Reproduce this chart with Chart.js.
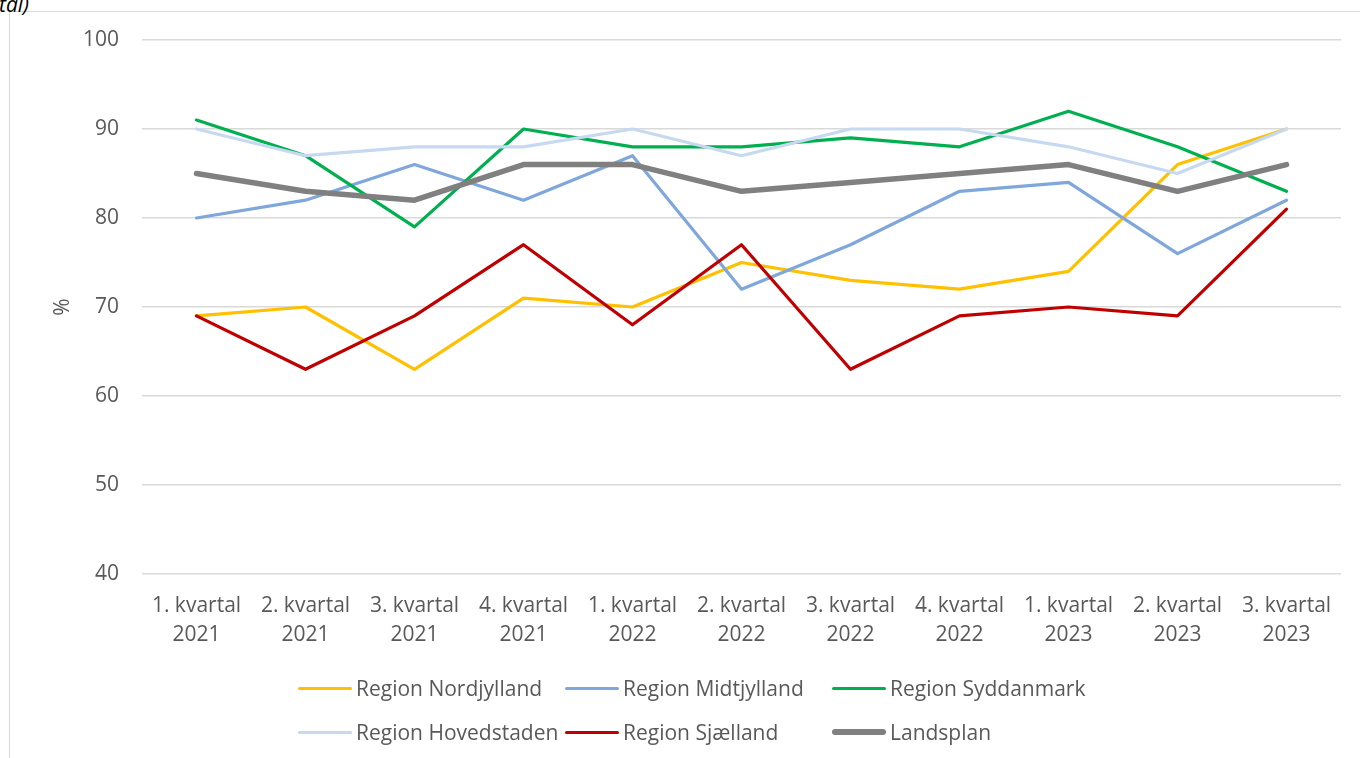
<!DOCTYPE html>
<html>
<head>
<meta charset="utf-8">
<script src="https://cdn.jsdelivr.net/npm/chart.js@4"></script>
<style>
  html, body { margin: 0; padding: 0; background: #fff; overflow: hidden; }
  #wrap { position: relative; width: 1360px; height: 758px; overflow: hidden; }
  #frame { position: absolute; left: 9px; top: 11px; width: 1400px; height: 800px;
           border-left: 1px solid #d9d9d9; border-top: 1px solid #d9d9d9; }
  #title { position: absolute; left: -1px; top: -6px; font: italic 21px "Open Sans", sans-serif;
           color: #000; line-height: 20px; white-space: nowrap; }
  #cwrap { position: absolute; left: 0; top: 0; width: 1360px; height: 758px; }
  #ytitle { position: absolute; left: 61px; top: 307px; font: 21px "Open Sans", sans-serif; color: #595959;
            transform: translate(-50%, -50%) rotate(-90deg); white-space: nowrap; }
  #legend { position: absolute; left: 0; top: 0; width: 1360px; height: 758px; pointer-events: none; }
  .li { position: absolute; height: 30px; display: flex; align-items: center;
        font: 21px "Open Sans", sans-serif; color: #595959; white-space: nowrap; }
  .sw { width: 54px; border-radius: 3px; margin-right: 4px; }
</style>
</head>
<body>
<div id="wrap">
  <div id="frame"></div>
  <div id="title">tal)</div>
  <div id="cwrap"><canvas id="c"></canvas></div>
  <div id="ytitle">%</div>
  <div id="legend"></div>
</div>
<script>
const categories = [
  ["1. kvartal","2021"],["2. kvartal","2021"],["3. kvartal","2021"],["4. kvartal","2021"],
  ["1. kvartal","2022"],["2. kvartal","2022"],["3. kvartal","2022"],["4. kvartal","2022"],
  ["1. kvartal","2023"],["2. kvartal","2023"],["3. kvartal","2023"]
];
const seriesNames = ["Region Nordjylland","Region Midtjylland","Region Syddanmark","Region Hovedstaden","Region Sjælland","Landsplan"];
const nordjylland = [69, 70, 63, 71, 70, 75, 73, 72, 74, 86, 90];
const midtjylland = [80, 82, 86, 82, 87, 72, 77, 83, 84, 76, 82];
const syddanmark  = [91, 87, 79, 90, 88, 88, 89, 88, 92, 88, 83];
const hovedstaden = [90, 87, 88, 88, 90, 87, 90, 90, 88, 85, 90];
const sjaelland   = [69, 63, 69, 77, 68, 77, 63, 69, 70, 69, 81];
const landsplan   = [85, 83, 82, 86, 86, 83, 84, 85, 86, 83, 86];
const yTicks = [40, 50, 60, 70, 80, 90, 100];

const colors = ["#FFC000", "#7FA7DB", "#00B050", "#C6D9F0", "#C00000", "#808080"];
const widths = [3.2, 3.2, 3.2, 3.2, 3.2, 5.5];
const values = [nordjylland, midtjylland, syddanmark, hovedstaden, sjaelland, landsplan];

const datasets = values.map((v, i) => ({
  label: seriesNames[i],
  data: v,
  borderColor: colors[i],
  backgroundColor: colors[i],
  borderWidth: widths[i],
  pointRadius: 0,
  tension: 0,
  borderCapStyle: 'round',
  borderJoinStyle: 'round',
  order: values.length - i
}));

const FONT = '"Open Sans", sans-serif';
new Chart(document.getElementById('c'), {
  type: 'line',
  data: { labels: categories, datasets },
  options: {
    responsive: true,
    maintainAspectRatio: false,
    animation: false,
    layout: { padding: { left: 0, right: 19, top: 40, bottom: 0 } },
    plugins: { legend: { display: false }, tooltip: { enabled: false } },
    scales: {
      x: {
        offset: true,
        grid: { display: false, drawTicks: false },
        border: { display: false },
        ticks: { color: '#595959', font: { family: FONT, size: 21, lineHeight: 1.38 },
                 maxRotation: 0, autoSkip: false, padding: 18 },
        afterFit: s => { s.height = 184; }
      },
      y: {
        min: 40, max: 100,
        afterBuildTicks: s => { s.ticks = yTicks.map(v => ({ value: v })); },
        grid: { color: '#d9d9d9', lineWidth: 1.5, drawTicks: false },
        border: { display: false },
        ticks: { color: '#595959', font: { family: FONT, size: 21 }, padding: 23 },
        afterFit: s => { s.width = 142; }
      }
    }
  }
});

// legend in grid columns
const leg = document.getElementById('legend');
const colX = [298, 565, 832];
const rowY = [688, 732];
seriesNames.forEach((n, i) => {
  const d = document.createElement('div');
  d.className = 'li';
  d.style.left = colX[i % 3] + 'px';
  d.style.top = (rowY[Math.floor(i / 3)] - 15) + 'px';
  const sw = document.createElement('div');
  sw.className = 'sw';
  sw.style.height = Math.round(widths[i]) + 'px';
  sw.style.background = colors[i];
  d.appendChild(sw);
  d.appendChild(document.createTextNode(n));
  leg.appendChild(d);
});
</script>
</body>
</html>
